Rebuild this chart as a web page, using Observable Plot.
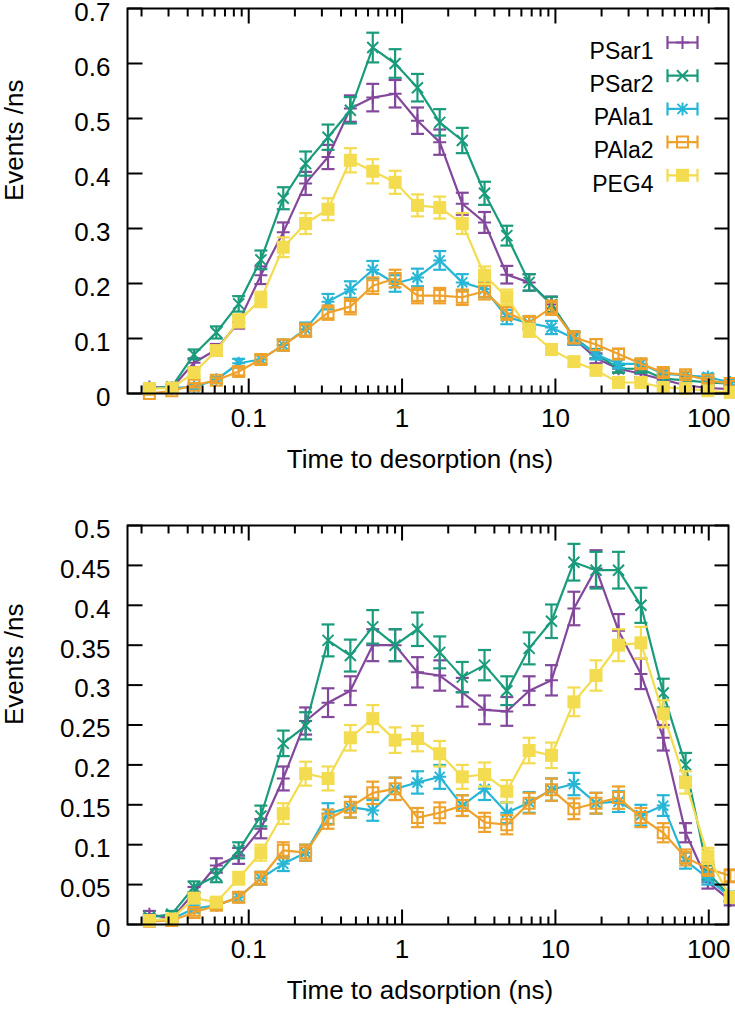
<!DOCTYPE html>
<html><head><meta charset="utf-8">
<script src="https://cdn.jsdelivr.net/npm/d3@7"></script>
<script src="https://cdn.jsdelivr.net/npm/@observablehq/plot@0.6"></script>
<style>
html,body{margin:0;padding:0;background:#fff;overflow:hidden;}
svg{display:block}
</style></head><body><div id="chart"></div>
<script>
// ---------- data ----------
const times = [0.0225, 0.0315, 0.044, 0.0615, 0.086, 0.12, 0.168, 0.235, 0.329, 0.46, 0.644, 0.901, 1.26, 1.76, 2.47, 3.45, 4.82, 6.74, 9.43, 13.2, 18.4, 25.8, 36.1, 50.5, 70.6, 98.7, 138];
const seriesNames = ["PSar1", "PSar2", "PAla1", "PAla2", "PEG4"];

// Top panel: time to desorption
const desPSar1 = [0.012, 0.01, 0.056, 0.08, 0.13, 0.215, 0.293, 0.382, 0.43, 0.518, 0.538, 0.545, 0.496, 0.457, 0.345, 0.311, 0.216, 0.202, 0.162, 0.1, 0.064, 0.045, 0.036, 0.025, 0.015, 0.01, 0.008];
const desPSar1Err = [0.004, 0.003, 0.008, 0.010, 0.012, 0.016, 0.018, 0.021, 0.022, 0.024, 0.025, 0.025, 0.024, 0.023, 0.020, 0.019, 0.016, 0.015, 0.014, 0.011, 0.009, 0.007, 0.006, 0.005, 0.004, 0.003, 0.003];
const desPSar2 = [0.01, 0.012, 0.071, 0.111, 0.163, 0.243, 0.355, 0.418, 0.466, 0.515, 0.629, 0.6, 0.556, 0.493, 0.46, 0.364, 0.287, 0.202, 0.162, 0.102, 0.072, 0.045, 0.045, 0.027, 0.024, 0.02, 0.018];
const desPSar2Err = [0.003, 0.004, 0.009, 0.011, 0.014, 0.017, 0.020, 0.022, 0.023, 0.024, 0.027, 0.026, 0.025, 0.024, 0.023, 0.021, 0.018, 0.015, 0.014, 0.011, 0.009, 0.007, 0.007, 0.006, 0.005, 0.005, 0.005];
const desPAla1 = [0.01, 0.01, 0.012, 0.025, 0.055, 0.062, 0.088, 0.117, 0.167, 0.189, 0.225, 0.2, 0.211, 0.242, 0.202, 0.19, 0.139, 0.128, 0.12, 0.1, 0.071, 0.054, 0.054, 0.036, 0.033, 0.03, 0.02];
const desPAla1Err = [0.003, 0.003, 0.004, 0.005, 0.008, 0.008, 0.010, 0.012, 0.014, 0.015, 0.016, 0.015, 0.016, 0.017, 0.015, 0.015, 0.013, 0.012, 0.012, 0.011, 0.009, 0.008, 0.008, 0.006, 0.006, 0.006, 0.005];
const desPAla2 = [0, 0.005, 0.015, 0.024, 0.04, 0.062, 0.088, 0.115, 0.147, 0.158, 0.196, 0.209, 0.178, 0.178, 0.175, 0.186, 0.147, 0.129, 0.156, 0.102, 0.089, 0.072, 0.054, 0.038, 0.034, 0.024, 0.018];
const desPAla2Err = [0.002, 0.002, 0.004, 0.005, 0.007, 0.008, 0.010, 0.012, 0.013, 0.014, 0.015, 0.016, 0.014, 0.014, 0.014, 0.015, 0.013, 0.012, 0.013, 0.011, 0.010, 0.009, 0.008, 0.007, 0.006, 0.005, 0.005];
const desPEG4 = [0.009, 0.01, 0.038, 0.078, 0.132, 0.171, 0.266, 0.309, 0.335, 0.424, 0.404, 0.384, 0.342, 0.338, 0.309, 0.215, 0.175, 0.115, 0.08, 0.058, 0.042, 0.02, 0.02, 0.011, 0.009, 0.005, 0.002];
const desPEG4Err = [0.003, 0.003, 0.007, 0.009, 0.012, 0.014, 0.018, 0.019, 0.020, 0.022, 0.022, 0.021, 0.020, 0.020, 0.019, 0.016, 0.014, 0.012, 0.010, 0.008, 0.007, 0.005, 0.005, 0.004, 0.003, 0.002, 0.002];

// Bottom panel: time to adsorption
const adsPSar1 = [0.013, 0.007, 0.04, 0.074, 0.086, 0.12, 0.183, 0.255, 0.278, 0.293, 0.35, 0.35, 0.316, 0.312, 0.291, 0.269, 0.267, 0.293, 0.306, 0.396, 0.446, 0.368, 0.314, 0.234, 0.115, 0.053, 0.03];
const adsPSar1Err = [0.004, 0.003, 0.007, 0.009, 0.010, 0.012, 0.015, 0.017, 0.018, 0.018, 0.020, 0.020, 0.019, 0.019, 0.018, 0.018, 0.018, 0.018, 0.019, 0.021, 0.023, 0.021, 0.019, 0.016, 0.012, 0.008, 0.006];
const adsPSar2 = [0.009, 0.013, 0.047, 0.061, 0.093, 0.136, 0.227, 0.249, 0.356, 0.337, 0.373, 0.35, 0.37, 0.341, 0.31, 0.325, 0.293, 0.346, 0.38, 0.454, 0.444, 0.444, 0.4, 0.29, 0.2, 0.065, 0.035];
const adsPSar2Err = [0.003, 0.004, 0.007, 0.008, 0.010, 0.013, 0.016, 0.017, 0.020, 0.020, 0.021, 0.020, 0.021, 0.020, 0.019, 0.019, 0.018, 0.020, 0.021, 0.023, 0.023, 0.023, 0.022, 0.018, 0.015, 0.009, 0.006];
const adsPAla1 = [0.005, 0.007, 0.02, 0.024, 0.034, 0.058, 0.076, 0.09, 0.139, 0.147, 0.143, 0.17, 0.178, 0.185, 0.149, 0.17, 0.14, 0.153, 0.169, 0.176, 0.152, 0.154, 0.137, 0.149, 0.08, 0.058, 0.034];
const adsPAla1Err = [0.002, 0.003, 0.005, 0.005, 0.006, 0.008, 0.009, 0.010, 0.013, 0.013, 0.013, 0.014, 0.014, 0.015, 0.013, 0.014, 0.013, 0.013, 0.014, 0.014, 0.013, 0.013, 0.013, 0.013, 0.010, 0.008, 0.006];
const adsPAla2 = [0.004, 0.005, 0.015, 0.024, 0.034, 0.058, 0.093, 0.09, 0.132, 0.147, 0.165, 0.17, 0.134, 0.14, 0.149, 0.128, 0.125, 0.152, 0.169, 0.145, 0.152, 0.159, 0.134, 0.115, 0.084, 0.07, 0.061];
const adsPAla2Err = [0.002, 0.002, 0.004, 0.005, 0.006, 0.008, 0.010, 0.010, 0.012, 0.013, 0.014, 0.014, 0.012, 0.013, 0.013, 0.012, 0.012, 0.013, 0.014, 0.013, 0.013, 0.014, 0.012, 0.012, 0.010, 0.009, 0.008];
const adsPEG4 = [0.005, 0.007, 0.033, 0.028, 0.058, 0.09, 0.139, 0.189, 0.183, 0.234, 0.258, 0.231, 0.233, 0.214, 0.185, 0.188, 0.167, 0.218, 0.212, 0.279, 0.312, 0.35, 0.353, 0.264, 0.178, 0.086, 0.034];
const adsPEG4Err = [0.002, 0.003, 0.006, 0.006, 0.008, 0.010, 0.013, 0.015, 0.015, 0.016, 0.017, 0.016, 0.016, 0.016, 0.015, 0.015, 0.014, 0.016, 0.016, 0.018, 0.019, 0.020, 0.020, 0.017, 0.014, 0.010, 0.006];

const xMajorTicks = [0.1, 1, 10, 100];
const xMinorTicks = [0.02, 0.03, 0.04, 0.05, 0.06, 0.07, 0.08, 0.09, 0.2, 0.3, 0.4, 0.5, 0.6, 0.7, 0.8, 0.9, 2, 3, 4, 5, 6, 7, 8, 9, 20, 30, 40, 50, 60, 70, 80, 90];
const yTicksTop = [0, 0.1, 0.2, 0.3, 0.4, 0.5, 0.6, 0.7];
const yTicksBottom = [0, 0.05, 0.1, 0.15, 0.2, 0.25, 0.3, 0.35, 0.4, 0.45, 0.5];

// ---------- styles ----------
const colors = ["#83479c", "#1a9b7b", "#27b6d6", "#eea22c", "#f3dc4f"];
const markerKinds = ["plus", "times", "asterisk", "square2", "square"];
const FONT = "'Liberation Sans', Arial, Helvetica, sans-serif";
const S = 6.5;
const symbols = {
  plus: {draw(c){c.moveTo(-S,0);c.lineTo(S,0);c.moveTo(0,-S);c.lineTo(0,S);}},
  times: {draw(c){const r=5.5;c.moveTo(-r,-r);c.lineTo(r,r);c.moveTo(-r,r);c.lineTo(r,-r);}},
  asterisk: {draw(c){const r=5;c.moveTo(-S,0);c.lineTo(S,0);c.moveTo(0,-S);c.lineTo(0,S);c.moveTo(-r,-r);c.lineTo(r,r);c.moveTo(-r,r);c.lineTo(r,-r);}},
  square2: {draw(c){const r=5.5;c.moveTo(-r,-r);c.lineTo(r,-r);c.lineTo(r,r);c.lineTo(-r,r);c.closePath();}},
  square: {draw(c){const r=6.5;c.moveTo(-r,-r);c.lineTo(r,-r);c.lineTo(r,r);c.lineTo(-r,r);c.closePath();}}
};
const capSym = {draw(c){c.moveTo(-S,0);c.lineTo(S,0);}};
const legendBar = {draw(c){c.moveTo(-15,0);c.lineTo(15,0);c.moveTo(-15,-S);c.lineTo(-15,S);c.moveTo(15,-S);c.lineTo(15,S);}};
const tickV = L => ({draw(c){c.moveTo(0,0);c.lineTo(0,L);}});
const tickH = L => ({draw(c){c.moveTo(0,0);c.lineTo(L,0);}});

function markerOpts(i, extra) {
  const kind = markerKinds[i];
  if (kind === "square") return {...extra, symbol: symbols.square, fill: colors[i], stroke: "none"};
  return {...extra, symbol: symbols[kind], fill: "none", stroke: colors[i], strokeWidth: 2};
}

function panel({values, errors, yTicks, yDomain, xLabel, height, marginTop, marginBottom, legend}) {
  const marks = [];
  values.forEach((vals, i) => {
    const rows = times.map((t, k) => ({t, v: vals[k], e: errors[i][k]}));
    const color = colors[i];
    marks.push(Plot.line(rows, {x: "t", y: "v", stroke: color, strokeWidth: 2.2}));
    marks.push(Plot.ruleX(rows, {x: "t", y1: d => d.v - d.e, y2: d => d.v + d.e, stroke: color, strokeWidth: 2.2}));
    marks.push(Plot.dot(rows, {x: "t", y: d => d.v - d.e, symbol: capSym, fill: "none", stroke: color, strokeWidth: 2.2}));
    marks.push(Plot.dot(rows, {x: "t", y: d => d.v + d.e, symbol: capSym, fill: "none", stroke: color, strokeWidth: 2.2}));
    marks.push(Plot.dot(rows, markerOpts(i, {x: "t", y: "v"})));
  });
  const tk = {stroke: "black", strokeWidth: 2, fill: "none"};
  marks.push(Plot.dot(xMajorTicks, {...tk, x: d => d, frameAnchor: "bottom", symbol: tickV(-15)}));
  marks.push(Plot.dot(xMinorTicks, {...tk, x: d => d, frameAnchor: "bottom", symbol: tickV(-8)}));
  marks.push(Plot.dot(xMajorTicks, {...tk, x: d => d, frameAnchor: "top", symbol: tickV(15)}));
  marks.push(Plot.dot(xMinorTicks, {...tk, x: d => d, frameAnchor: "top", symbol: tickV(8)}));
  marks.push(Plot.dot(yTicks, {...tk, y: d => d, frameAnchor: "left", symbol: tickH(15)}));
  marks.push(Plot.dot(yTicks, {...tk, y: d => d, frameAnchor: "right", symbol: tickH(-14)}));
  marks.push(Plot.frame({stroke: "black", strokeWidth: 2}));
  marks.push(Plot.axisX({ticks: xMajorTicks, tickSize: 0, tickPadding: 15, tickFormat: d => String(d), fontSize: 26, label: null}));
  marks.push(Plot.axisY({ticks: yTicks, tickSize: 0, tickPadding: 17, dy: 4, tickFormat: d => String(d), fontSize: 26, label: null}));
  marks.push(Plot.text(["Events /ns"], {text: d => d, frameAnchor: "left", dx: -113, rotate: -90, fontSize: 26, fill: "black"}));
  marks.push(Plot.text([xLabel], {text: d => d, frameAnchor: "bottom", dx: -8, dy: 74, fontSize: 26, fill: "black"}));
  if (legend) {
    seriesNames.forEach((name, i) => {
      const dy = 34 + 33.2 * i;
      marks.push(Plot.text([name], {text: d => d, frameAnchor: "top-right", dx: -75, dy, textAnchor: "end", fontSize: 23, fill: "black"}));
      marks.push(Plot.dot([0], {frameAnchor: "top-right", dx: -46, dy, symbol: legendBar, fill: "none", stroke: colors[i], strokeWidth: 2.2}));
      marks.push(Plot.dot([0], markerOpts(i, {frameAnchor: "top-right", dx: -46, dy})));
    });
  }
  return Plot.plot({
    width: 735, height, marginTop, marginBottom, marginLeft: 127, marginRight: 7,
    x: {type: "log", domain: [0.0162, 134.5]},
    y: {domain: yDomain},
    style: {fontFamily: FONT, fontSize: "26px", background: "white", color: "black"},
    marks
  });
}

const topPanel = panel({
  values: [desPSar1, desPSar2, desPAla1, desPAla2, desPEG4],
  errors: [desPSar1Err, desPSar2Err, desPAla1Err, desPAla2Err, desPEG4Err],
  yTicks: yTicksTop, yDomain: [0, 0.7], xLabel: "Time to desorption (ns)",
  height: 490, marginTop: 8, marginBottom: 97, legend: true
});
const bottomPanel = panel({
  values: [adsPSar1, adsPSar2, adsPAla1, adsPAla2, adsPEG4],
  errors: [adsPSar1Err, adsPSar2Err, adsPAla1Err, adsPAla2Err, adsPEG4Err],
  yTicks: yTicksBottom, yDomain: [0, 0.5], xLabel: "Time to adsorption (ns)",
  height: 527, marginTop: 35, marginBottom: 93, legend: false
});
const host = document.getElementById("chart");
host.appendChild(topPanel);
host.appendChild(bottomPanel);
</script>
</body></html>
